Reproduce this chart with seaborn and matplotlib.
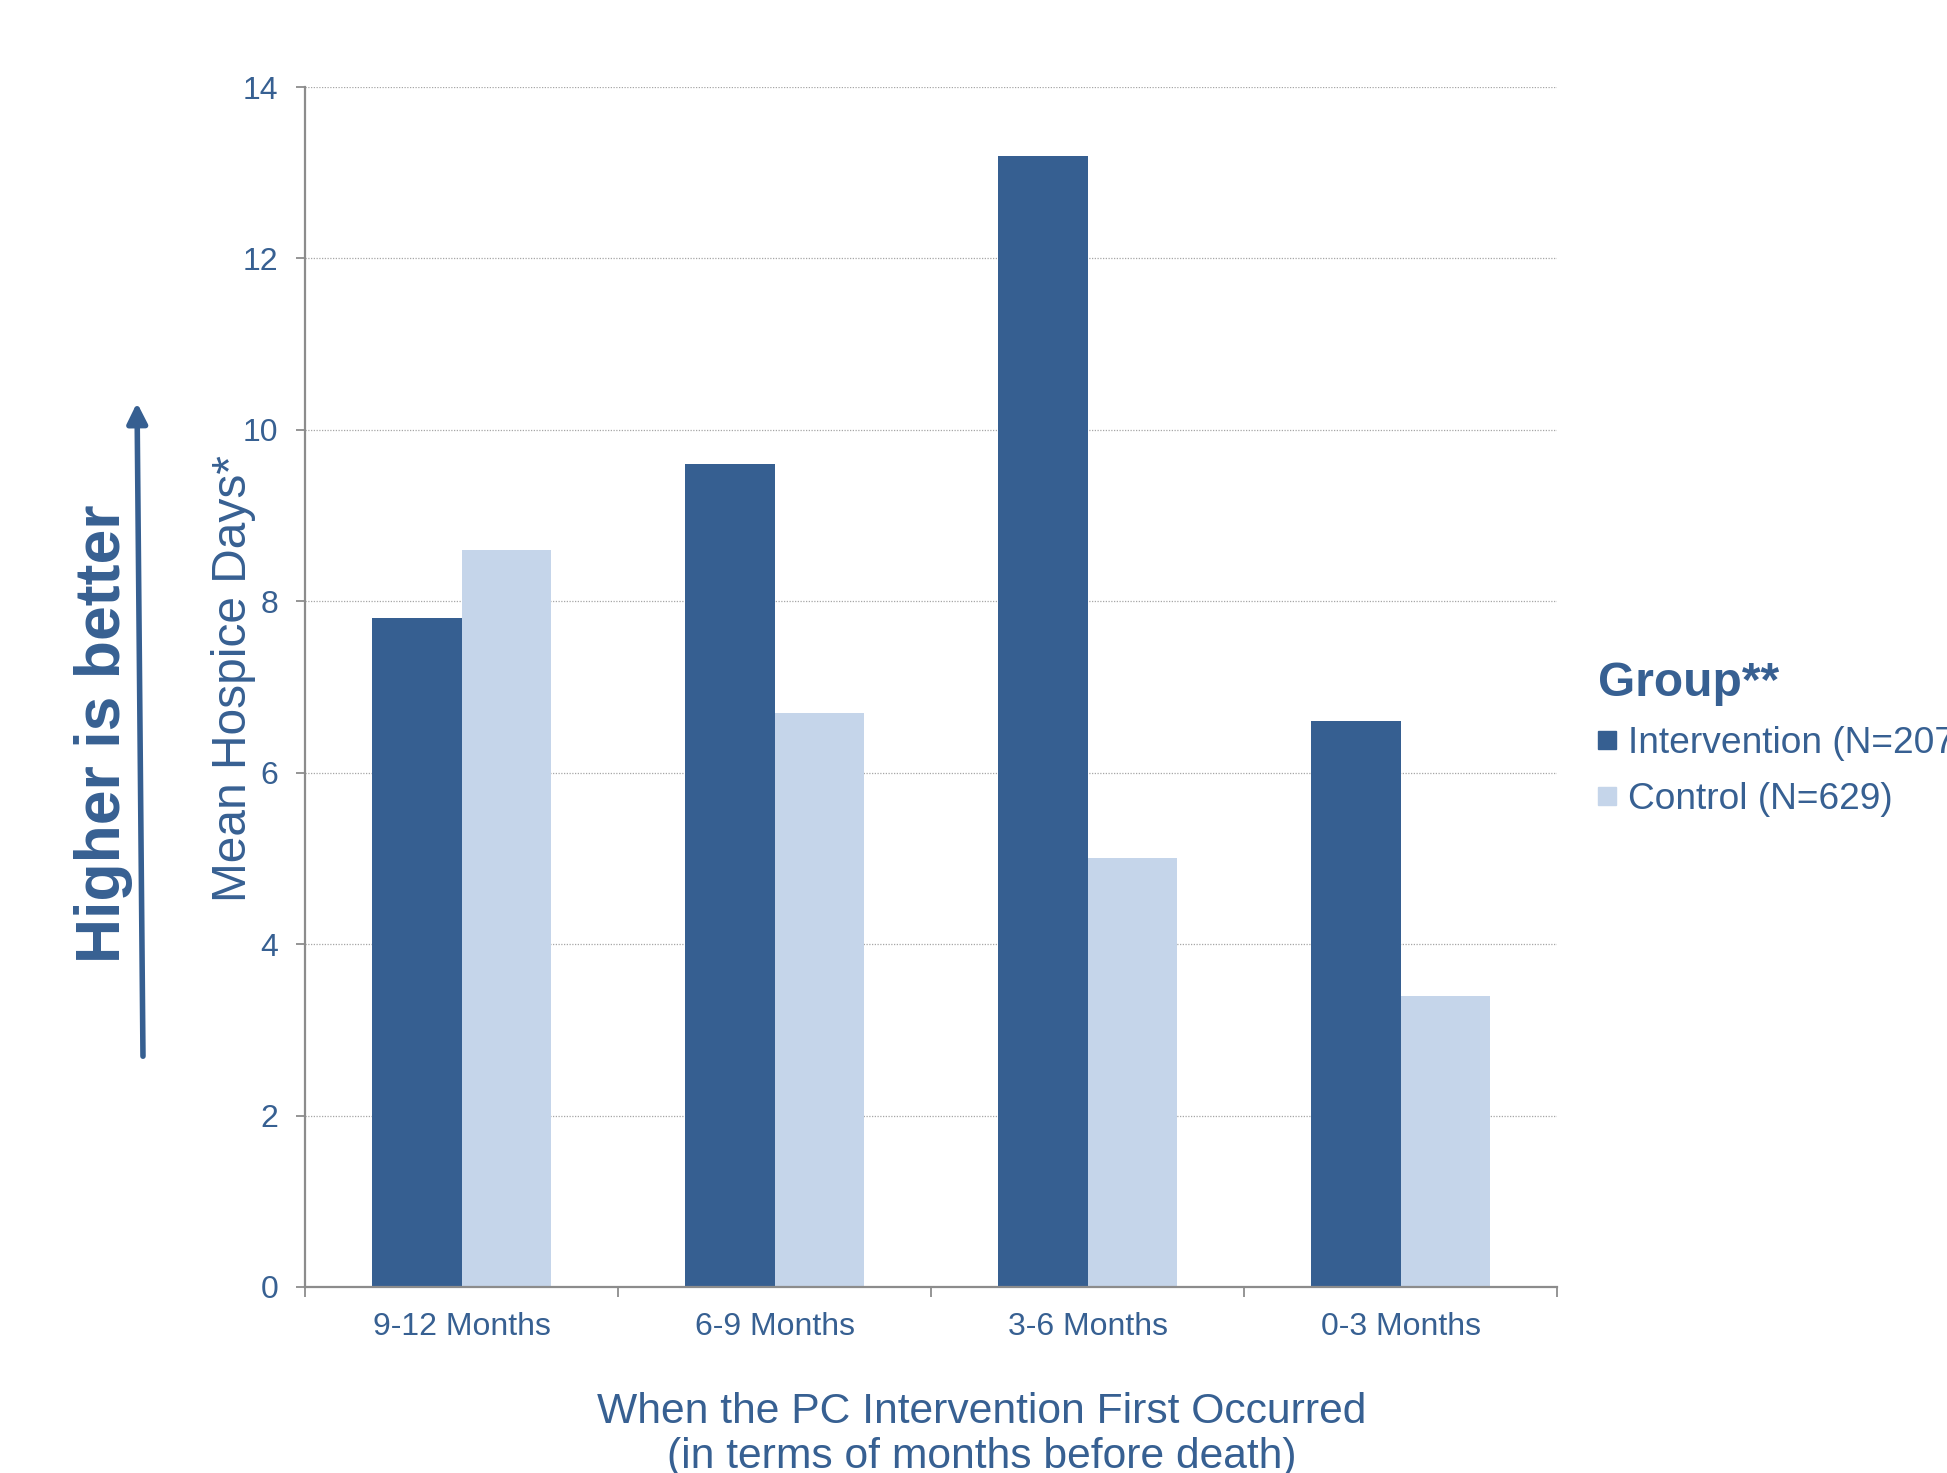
import matplotlib
matplotlib.use("Agg")
import matplotlib.pyplot as plt
from matplotlib.lines import Line2D
import seaborn as sns
import pandas as pd

# Mean hospice days by when the palliative-care intervention first occurred
periods = ["9-12 Months", "6-9 Months", "3-6 Months", "0-3 Months"]
groups = ["Intervention (N=207)", "Control (N=629)"]
intervention_days = [7.8, 9.6, 13.2, 6.6]
control_days = [8.6, 6.7, 5.0, 3.4]
y_ticks = [0, 2, 4, 6, 8, 10, 12, 14]

dark_blue = "#365F91"
light_blue = "#C5D5EA"
text_blue = "#376092"
axis_grey = "#8C8C8C"

df = pd.DataFrame({
    "period": periods * 2,
    "group": [groups[0]] * len(periods) + [groups[1]] * len(periods),
    "days": intervention_days + control_days,
})

sns.set_theme(style="white")
plt.rcParams["font.family"] = ["Liberation Sans", "DejaVu Sans"]

fig = plt.figure(figsize=(19.47, 14.73), dpi=100)
ax = fig.add_axes([0.1567, 0.1263, 0.643, 0.8146])

sns.barplot(
    data=df, x="period", y="days", hue="group", order=periods, hue_order=groups,
    palette=[dark_blue, light_blue], width=0.571, gap=0, saturation=1,
    linewidth=0, errorbar=None, legend=False, ax=ax,
)

ax.set_xlim(-0.5, len(periods) - 0.5)
ax.set_ylim(0, 14)
ax.set_yticks(y_ticks)
ax.set_axisbelow(True)
ax.yaxis.grid(True, linestyle=(0, (1, 1.2)), color="#A6A6A6", linewidth=0.9)
ax.xaxis.grid(False)

for side in ("top", "right"):
    ax.spines[side].set_visible(False)
for side in ("left", "bottom"):
    ax.spines[side].set_color(axis_grey)
    ax.spines[side].set_linewidth(1.6)

ax.tick_params(axis="y", which="major", direction="out", length=6.5, width=1.3,
               color=axis_grey, labelcolor=text_blue, labelsize=23, pad=13, left=True)
ax.tick_params(axis="x", which="major", length=0, labelcolor=text_blue,
               labelsize=23, pad=18, bottom=True)
ax.set_xticks([i - 0.5 for i in range(len(periods) + 1)], minor=True)
ax.tick_params(axis="x", which="minor", direction="out", length=7, width=1.3,
               color=axis_grey, bottom=True)

ax.set_xlabel("")
ax.set_ylabel("Mean Hospice Days*", fontsize=34.5, color=text_blue)
ax.yaxis.set_label_coords(-0.039, 0.507)

fig.text(0.504, 0.026,
         "When the PC Intervention First Occurred\n(in terms of months before death)",
         ha="center", va="center", fontsize=30.7, color=text_blue, linespacing=1.15)

# "Higher is better" reminder with an upward arrow
fig.text(0.053, 0.502, "Higher is better", rotation=90, ha="center", va="center",
         fontsize=45, fontweight="bold", color=text_blue)
fig.patches.append(matplotlib.patches.FancyArrowPatch(
    (143 / 1947, 1 - 1059 / 1473), (137 / 1947, 1 - 400 / 1473),
    transform=fig.transFigure, arrowstyle="-|>,head_length=12,head_width=6",
    mutation_scale=1, color=dark_blue, linewidth=4))

handles = [Line2D([], [], marker="s", linestyle="", markersize=13, color=c)
           for c in (dark_blue, light_blue)]
leg = ax.legend(
    handles, groups, title="Group**", loc="upper left",
    bbox_to_anchor=(1598 / 1947, 1 - 661 / 1473), bbox_transform=fig.transFigure,
    frameon=False, fontsize=26.7, handlelength=0.5, handletextpad=0.3,
    labelspacing=0.55, borderpad=0, borderaxespad=0, alignment="left",
    title_fontproperties={"weight": "bold", "size": 34.5},
)
leg.get_title().set_color(text_blue)
for t in leg.get_texts():
    t.set_color(text_blue)

fig.savefig("out.png", dpi=100)
